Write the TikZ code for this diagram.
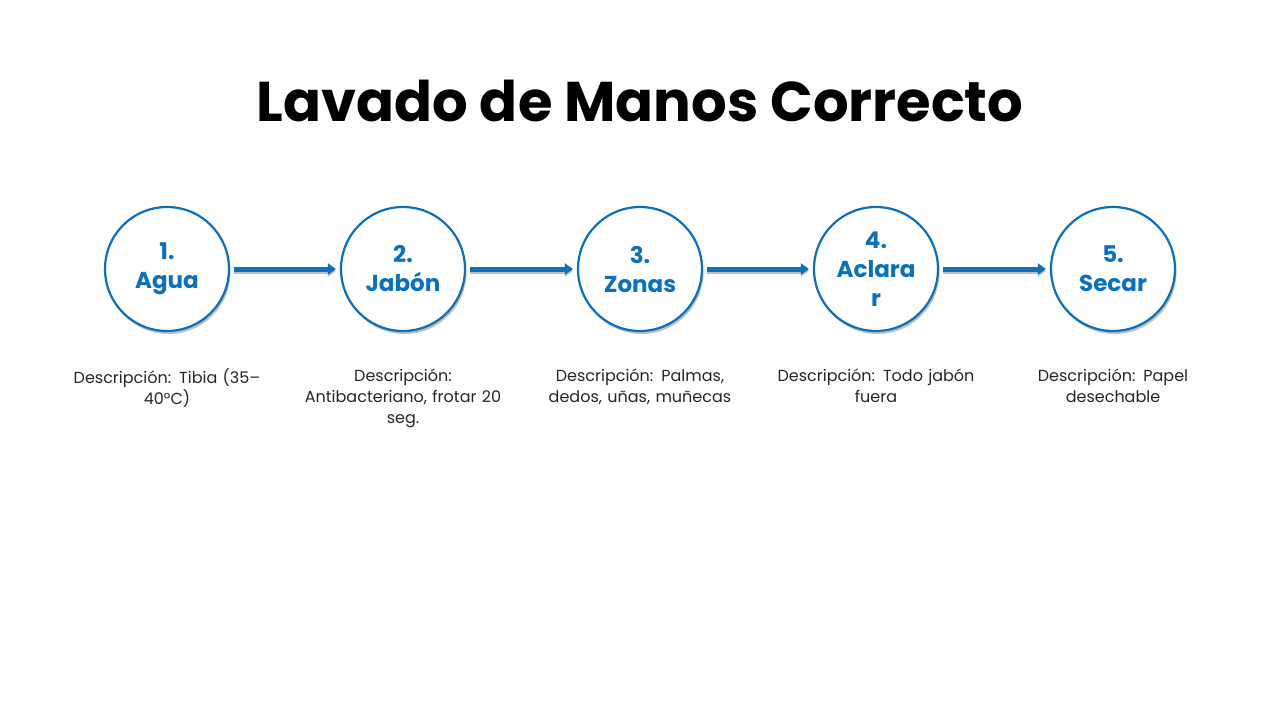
\documentclass[tikz,border=0pt]{standalone}
\usepackage{fontspec}
\setmainfont{Poppins}
\usetikzlibrary{shadows,arrows.meta}
\begin{document}
\begin{tikzpicture}[x=1pt,y=-1pt,
  stepcirc/.style={circle,draw=stepblue,line width=2.2pt,fill=white,minimum size=124pt,inner sep=0pt,
    align=center,font=\fontsize{23}{29}\selectfont\bfseries,text=stepblue,
    drop shadow={shadow xshift=1.5pt,shadow yshift=-3pt,opacity=0.25,fill=black}},
  desc/.style={align=center,text width=200pt,font=\fontsize{16}{21}\selectfont,text=black!85},
  conn/.style={-{Triangle[length=8pt,width=11pt]},line width=5pt,draw=stepblue,
    preaction={draw=black!25,line width=5pt,transform canvas={yshift=-2pt},-{Triangle[length=8pt,width=11pt]}}}]
\definecolor{stepblue}{HTML}{0A70C0}
\useasboundingbox (0,0) rectangle (1280,720);
\node[font=\fontsize{56}{60}\selectfont\bfseries] (title) at (640,101) {Lavado de Manos Correcto};
\node[stepcirc] (c1) at (167,269) {1.\\Agua};
\node[stepcirc] (c2) at (403,269) {2.\\Jabón};
\node[stepcirc] (c3) at (640,269) {3.\\Zonas};
\node[stepcirc] (c4) at (876,269) {4.\\Aclara\\r};
\node[stepcirc] (c5) at (1113,269) {5.\\Secar};
\foreach \a/\b in {c1/c2,c2/c3,c3/c4,c4/c5}{
  \draw[conn] ([xshift=4pt]\a.east) -- ([xshift=-4pt]\b.west);
}
\node[desc,anchor=north] (d1) at (167,365) {Descripción: Tibia (35–\\40°C)};
\node[desc,anchor=north] (d2) at (403,365) {Descripción:\\Antibacteriano, frotar 20\\seg.};
\node[desc,anchor=north] (d3) at (640,365) {Descripción: Palmas,\\dedos, uñas, muñecas};
\node[desc,anchor=north] (d4) at (876,365) {Descripción: Todo jabón\\fuera};
\node[desc,anchor=north] (d5) at (1113,365) {Descripción: Papel\\desechable};
\end{tikzpicture}
\end{document}
